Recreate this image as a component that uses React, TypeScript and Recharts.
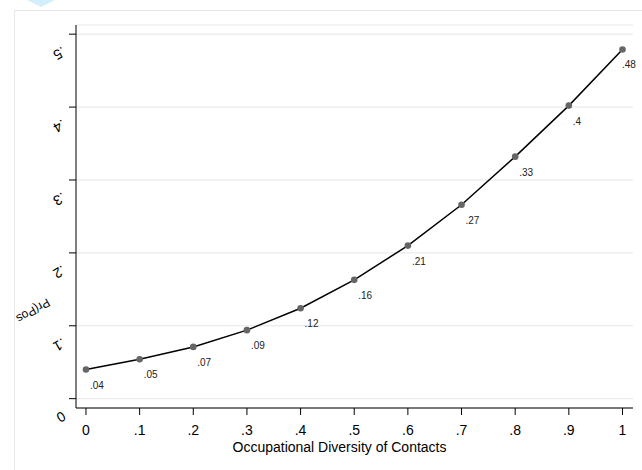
import React from 'react';
import {
  LineChart,
  Line,
  XAxis,
  YAxis,
  CartesianGrid,
  Label,
} from 'recharts';

// diversity levels (x) and predicted probabilities (y)
const diversity = [0, 0.1, 0.2, 0.3, 0.4, 0.5, 0.6, 0.7, 0.8, 0.9, 1];
const probability = [0.04, 0.054, 0.071, 0.094, 0.124, 0.163, 0.21, 0.266, 0.332, 0.402, 0.479];
const xTicks = [0, 0.1, 0.2, 0.3, 0.4, 0.5, 0.6, 0.7, 0.8, 0.9, 1];
const yTicks = [0, 0.1, 0.2, 0.3, 0.4, 0.5];

const xTitle = 'Occupational Diversity of Contacts';
const yTitle = 'Pr(Pos';

const data = diversity.map((d, i) => ({ x: d, p: probability[i] }));

const FONT = '"Liberation Sans", Arial, Helvetica, sans-serif';

// .3 instead of 0.3, like Stata
const fmt = (v: number, digits = 2) => {
  const s = String(Number(v.toFixed(digits)));
  return s.startsWith('0.') ? s.slice(1) : s;
};

const YTick = (props: any) => {
  const { y, payload } = props;
  const ax = 48;
  const ay = y + 12;
  return (
    <text
      x={ax}
      y={ay}
      transform={`rotate(150 ${ax} ${ay})`}
      textAnchor="start"
      fontSize={14}
      fontFamily={FONT}
      fill="#000"
    >
      {fmt(payload.value, 1)}
    </text>
  );
};

// marker plus its value label; label kept inside the right edge like in Stata
const PointDot = (props: any) => {
  const { cx, cy, payload, index } = props;
  const lx = Math.min(cx + 4, 608);
  return (
    <g key={`pt-${index}`}>
      <circle cx={cx} cy={cy} r={3.3} fill="#666" />
      <text x={lx} y={cy + 19} fontSize={10} fontFamily={FONT} fill="#222">
        {fmt(payload.p)}
      </text>
    </g>
  );
};

const YTitle = () => {
  const ax = 33;
  const ay = 288;
  return (
    <text
      x={ax}
      y={ay}
      transform={`rotate(150 ${ax} ${ay})`}
      fontSize={12}
      fontFamily={FONT}
      fill="#000"
    >
      {yTitle}
    </text>
  );
};

export default function App() {
  return (
    <div style={{ position: 'fixed', left: 0, top: 0, width: 642, height: 470, background: '#fff', overflow: 'hidden' }}>
      <div
        style={{
          position: 'absolute',
          left: 27,
          top: 0,
          width: 0,
          height: 0,
          borderLeft: '14px solid transparent',
          borderRight: '14px solid transparent',
          borderTop: '7px solid #d5eefb',
        }}
      />
      <div
        style={{
          position: 'absolute',
          left: 14,
          top: 10,
          width: 628,
          height: 460,
          boxSizing: 'border-box',
          borderLeft: '1px solid #e8e8e8',
          borderTop: '1px solid #e8e8e8',
        }}
      />
      <div style={{ position: 'absolute', left: 14, top: 10, width: 628, height: 460, overflow: 'hidden' }}>
        <LineChart
          width={628}
          height={460}
          data={data}
          margin={{ top: 15, right: 9, left: 0, bottom: 0 }}
        >
          <CartesianGrid horizontal vertical={false} stroke="#e6e6e6" />
          <XAxis
            dataKey="x"
            type="number"
            domain={[-0.0186, 1.0196]}
            ticks={xTicks}
            tickFormatter={(v) => fmt(v, 1)}
            height={62}
            stroke="#000"
            tickSize={7}
            tickMargin={10}
            tick={{ fill: '#000', fontSize: 14, fontFamily: FONT }}
          >
            <Label
              value={xTitle}
              position="insideTop"
              offset={34}
              dx={-15}
              style={{ fill: '#000', fontSize: 14, fontFamily: FONT }}
            />
          </XAxis>
          <YAxis
            type="number"
            domain={[-0.0128, 0.5126]}
            ticks={yTicks}
            width={62}
            stroke="#000"
            tickSize={7}
            tick={<YTick />}
          >
            <Label content={<YTitle />} />
          </YAxis>
          <Line
            dataKey="p"
            stroke="#000"
            strokeWidth={1.5}
            dot={<PointDot />}
            isAnimationActive={false}
          />
        </LineChart>
      </div>
    </div>
  );
}
